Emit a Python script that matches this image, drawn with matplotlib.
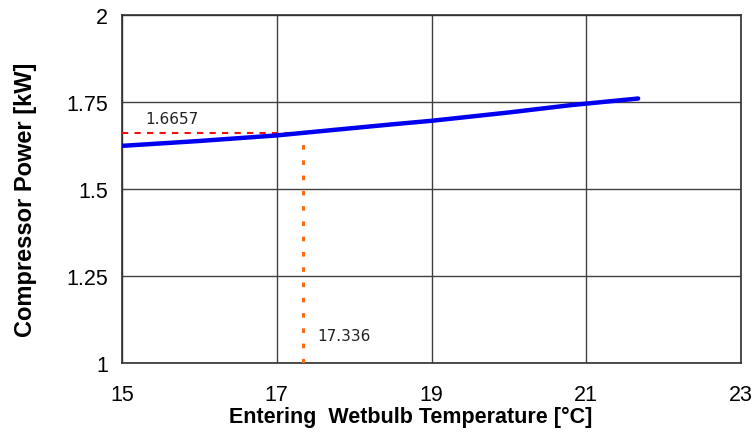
import matplotlib
matplotlib.use("Agg")
import matplotlib.pyplot as plt

temps = [15.0, 16.0, 17.0, 17.7, 18.5, 19.0, 20.0, 20.8, 21.67]
power = [1.624, 1.638, 1.654, 1.669, 1.686, 1.696, 1.720, 1.741, 1.760]
marker_x = 17.336
marker_y = 1.6657
xticks = [15, 17, 19, 21, 23]
yticks = [1, 1.25, 1.5, 1.75, 2]
ytick_labels = ["1", "1.25", "1.5", "1.75", "2"]

fig = plt.figure(figsize=(7.54, 4.35), dpi=100)
ax = fig.add_axes([0.1618, 0.1632, 0.8210, 0.8000])
ax.set_xlim(15, 23)
ax.set_ylim(1, 2)
ax.set_xticks(xticks)
ax.set_yticks(yticks)
ax.set_yticklabels(ytick_labels)
ax.grid(True, color="#404040", linewidth=1.0)
ax.set_axisbelow(True)
for s in ax.spines.values():
    s.set_color("#303030")
    s.set_linewidth(1.2)
ax.tick_params(length=0, labelsize=15.5)
ax.tick_params(axis="y", pad=10)
ax.tick_params(axis="x", pad=15)
for lab in ax.get_xticklabels() + ax.get_yticklabels():
    lab.set_fontfamily("Liberation Sans")

ax.plot([15, marker_x], [marker_y - 0.005, marker_y - 0.005], color="#ee1111", linestyle=(0, (3, 3)), linewidth=1.5, zorder=3)
ax.plot([marker_x, marker_x], [1, marker_y - 0.005], color="#ff6a10", linestyle=(0, (1.5, 3.5)), linewidth=2.2, zorder=3)
ax.plot(temps, power, color="#0000ee", linewidth=3.2, solid_capstyle="round", zorder=4)

ax.text(15.3, 1.69, "1.6657", fontsize=11, fontfamily="DejaVu Sans", color="#222222")
ax.text(17.52, 1.065, "17.336", fontsize=11, fontfamily="DejaVu Sans", color="#222222")

ax.set_xlabel("Entering  Wetbulb Temperature [°C]", fontsize=15.5, fontweight="bold", fontfamily="Liberation Sans")
ax.set_ylabel("Compressor Power [kW]", fontsize=17, fontweight="bold", fontfamily="Liberation Sans")
ax.xaxis.set_label_coords(0.467, -0.124)
ax.yaxis.set_label_coords(-0.138, 0.471)

fig.savefig("out.png", dpi=100)
